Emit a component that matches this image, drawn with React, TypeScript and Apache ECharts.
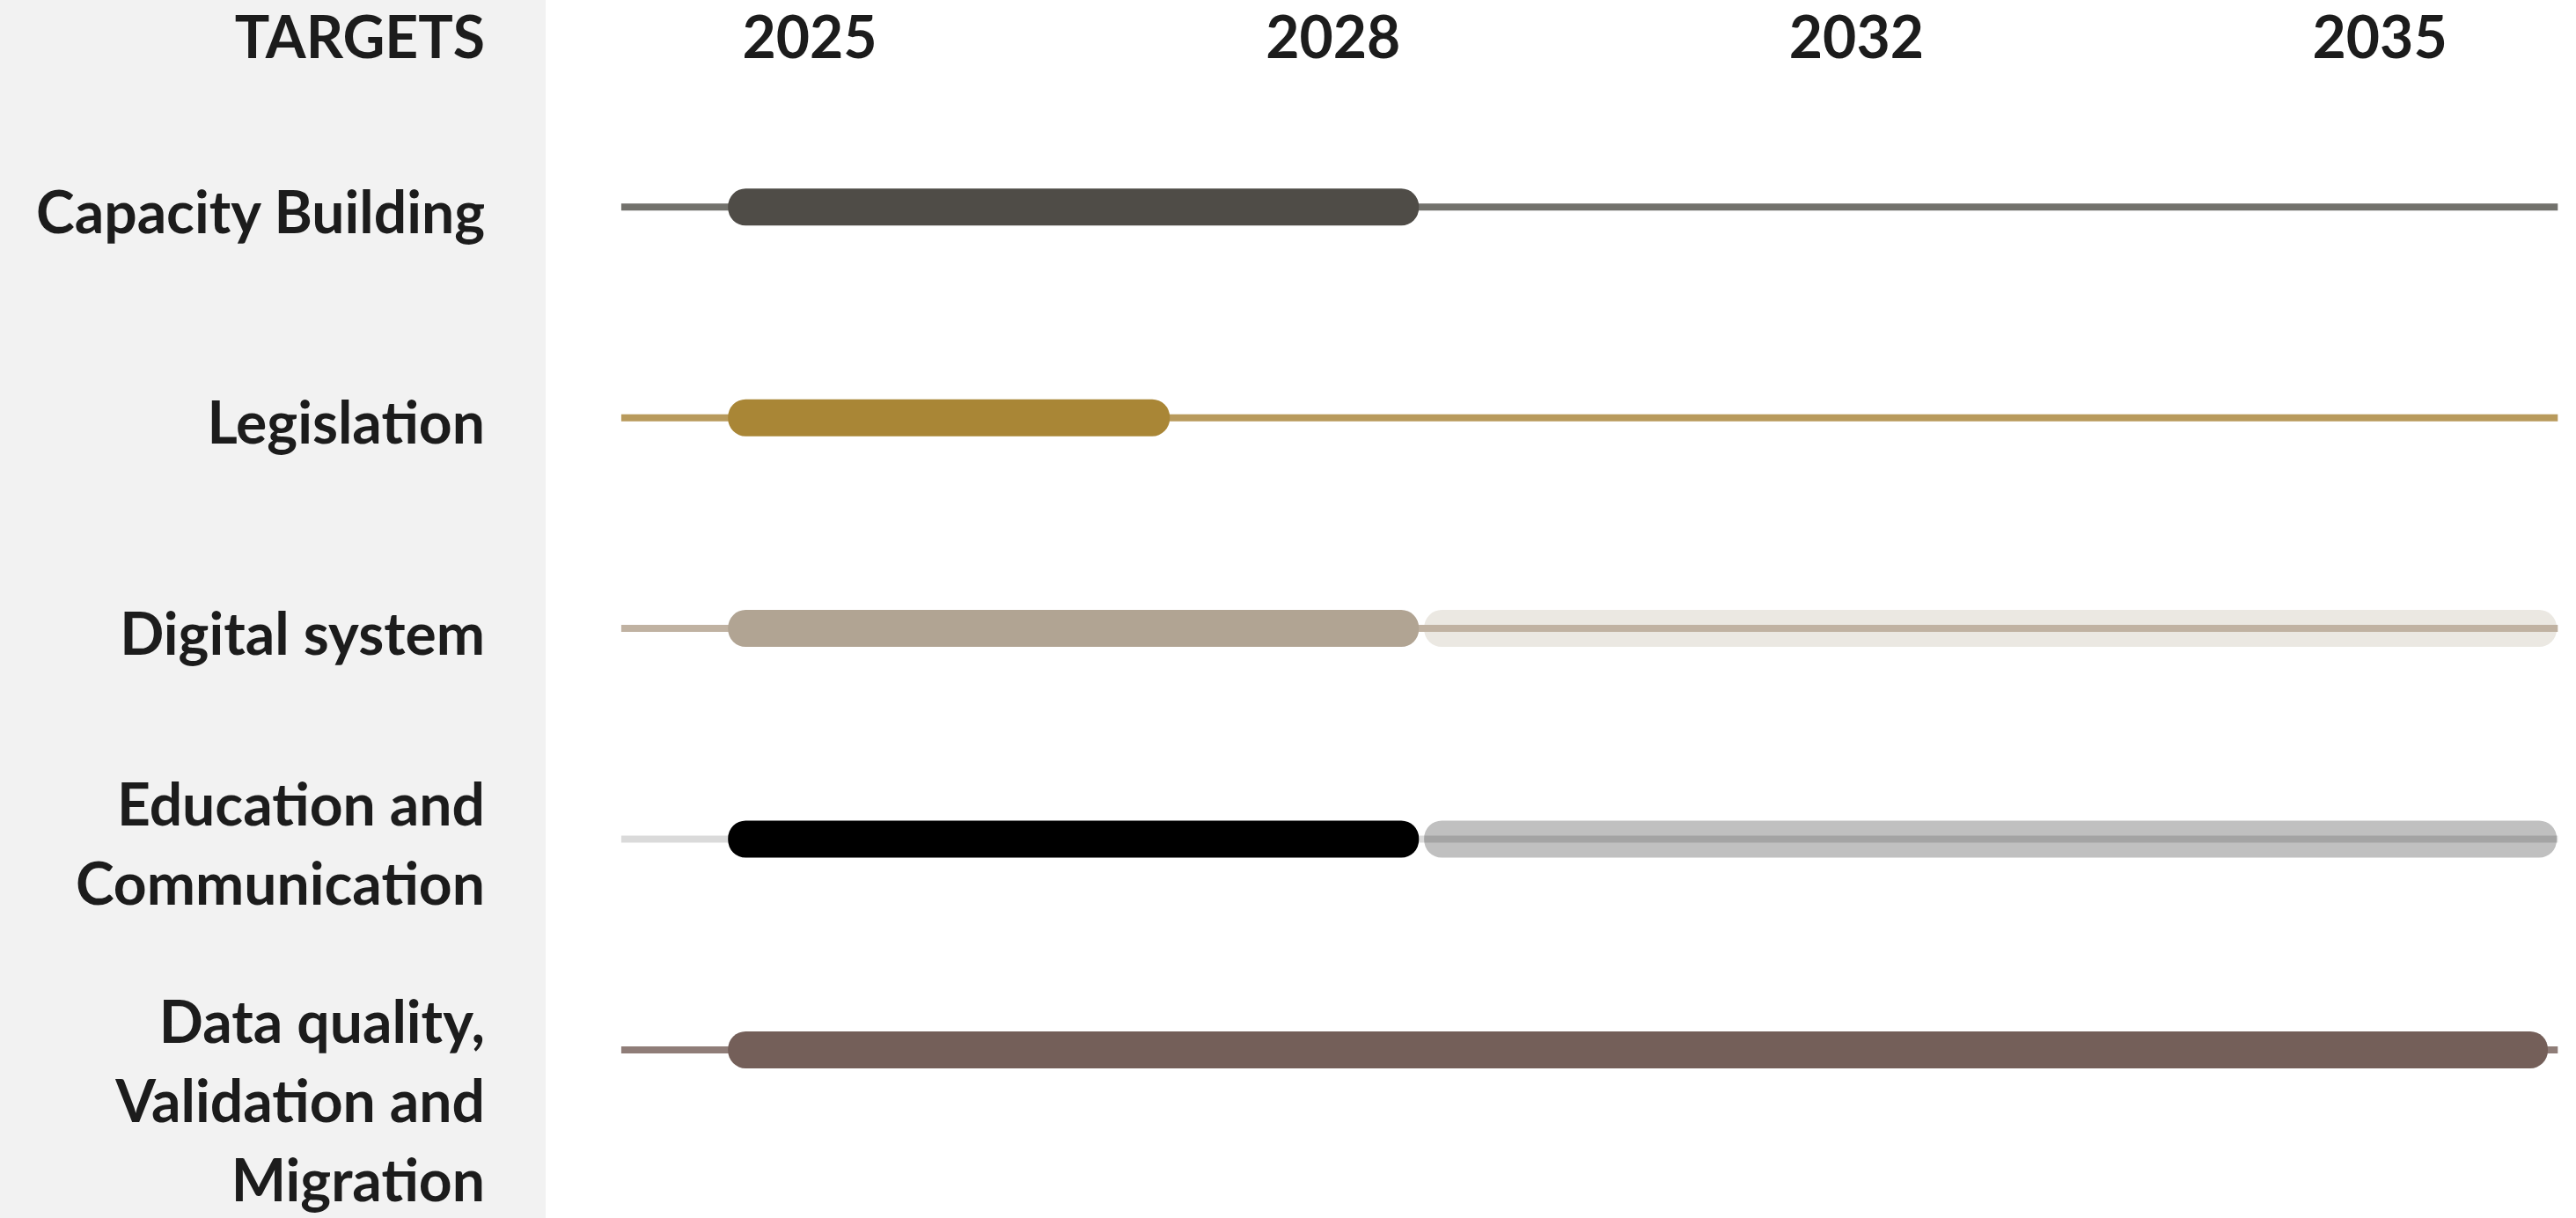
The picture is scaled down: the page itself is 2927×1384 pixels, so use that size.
import React, { useEffect, useRef } from "react";
import * as echarts from "echarts";

// ---------- DATA ----------
const categories = [
  "Capacity Building",
  "Legislation",
  "Digital system",
  "Education and\nCommunication",
  "Data quality,\nValidation and\nMigration",
];
const axisTitle = "TARGETS";
const yearLabels = ["2025", "2028", "2032", "2035"];
// timeline positions: 0 = 2025 column, 1 = 2028, 2 = 2032, 3 = 2035
const yearPositions = [0, 1, 2, 3];

const trackStart = [-0.36, -0.36, -0.36, -0.36, -0.36];
const trackEnd = [3.34, 3.34, 3.34, 3.34, 3.34];

const phase1Start = [-0.156, -0.156, -0.156, -0.156, -0.156];
const phase1End = [1.164, 0.688, 1.164, 1.164, 3.321];

const phase2Start: (number | null)[] = [null, null, 1.174, 1.174, null];
const phase2End: (number | null)[] = [null, null, 3.338, 3.338, null];

// ---------- STYLE ----------
const phase1Colors = ["#4f4c47", "#a98636", "#b1a493", "#000000", "#745f59"];
const phase2Colors = ["", "", "#ebe8e2", "#c0c0c0", ""];
const trackColors = ["#72716c", "#b89a5c", "#c0b2a2", "rgba(0,0,0,0.145)", "#8f7d78"];

const W = 2927;
const H = 1384;
const X0 = 920; // pixel of timeline position 0
const UNIT = 594.7; // pixels per timeline step
const X_MIN = -0.5;
const X_MAX = 3.375;
const ROW_TOP = 115.6;
const ROW_BAND = 239.4;
const BAR_H = 42;
const BAR_R = 20;
const TRACK_W = 8;
const FONT = "Lato, 'Open Sans', sans-serif";
const FONT_SIZE = 66;
const TEXT = "#1c1c1c";
const PANEL_W = 620;
const LABEL_RIGHT = 551;
const HEADER_Y = 40;

const gridLeft = X0 + X_MIN * UNIT;

function barRenderer(colors: string[]) {
  return (params: any, api: any) => {
    const row = api.value(0);
    const s = api.coord([api.value(1), row]);
    const e = api.coord([api.value(2), row]);
    return {
      type: "rect",
      shape: { x: s[0], y: s[1] - BAR_H / 2, width: e[0] - s[0], height: BAR_H, r: BAR_R },
      style: { fill: colors[row] },
    };
  };
}

function trackRenderer(params: any, api: any) {
  const row = api.value(0);
  const s = api.coord([api.value(1), row]);
  const e = api.coord([api.value(2), row]);
  return {
    type: "line",
    shape: { x1: s[0], y1: s[1], x2: e[0], y2: e[1] },
    style: { stroke: trackColors[row], lineWidth: TRACK_W, lineCap: "butt" },
  };
}

const trackData = categories.map((_, i) => [i, trackStart[i], trackEnd[i]]);
const phase1Data = categories.map((_, i) => [i, phase1Start[i], phase1End[i]]);
const phase2Data = categories
  .map((_, i) => [i, phase2Start[i], phase2End[i]])
  .filter((d) => d[1] !== null && d[2] !== null);

const option: any = {
  animation: false,
  backgroundColor: "#ffffff",
  graphic: [
    {
      type: "rect",
      z: -10,
      silent: true,
      shape: { x: 0, y: 0, width: PANEL_W, height: H },
      style: { fill: "#f2f2f2" },
    },
    {
      type: "text",
      z: 10,
      silent: true,
      x: LABEL_RIGHT,
      y: HEADER_Y,
      style: {
        text: axisTitle,
        fill: TEXT,
        font: `700 ${FONT_SIZE}px ${FONT}`,
        textAlign: "right",
        textVerticalAlign: "middle",
      },
    },
  ],
  grid: {
    left: gridLeft,
    width: (X_MAX - X_MIN) * UNIT,
    top: ROW_TOP,
    height: ROW_BAND * categories.length,
    containLabel: false,
    outerBoundsMode: "none",
  },
  xAxis: {
    type: "value",
    position: "top",
    min: X_MIN,
    max: X_MAX,
    axisLine: { show: false },
    axisTick: { show: false },
    splitLine: { show: false },
    axisLabel: {
      customValues: yearPositions,
      formatter: (v: number) => yearLabels[yearPositions.indexOf(Math.round(v))] ?? "",
      fontFamily: FONT,
      fontWeight: 700,
      fontSize: FONT_SIZE,
      color: TEXT,
      verticalAlign: "middle",
      margin: ROW_TOP - HEADER_Y,
      hideOverlap: false,
    },
  },
  yAxis: {
    type: "category",
    data: categories,
    inverse: true,
    axisLine: { show: false },
    axisTick: { show: false },
    splitLine: { show: false },
    axisLabel: {
      interval: 0,
      hideOverlap: false,
      fontFamily: FONT,
      fontWeight: 700,
      fontSize: FONT_SIZE,
      lineHeight: 90,
      color: TEXT,
      align: "right",
      margin: gridLeft - LABEL_RIGHT,
      padding: [8, 0, 0, 0],
      formatter: (value: string, index: number) =>
        index === categories.length - 1 ? `{gap| }\n${value}` : value,
      rich: {
        gap: { fontSize: 10, lineHeight: 105 },
      },
    },
  },
  series: [
    {
      type: "custom",
      name: "Later phase",
      z: 2,
      renderItem: barRenderer(phase2Colors),
      encode: { x: [1, 2], y: 0 },
      data: phase2Data,
    },
    {
      type: "custom",
      name: "Timeline",
      z: 3,
      renderItem: trackRenderer,
      encode: { x: [1, 2], y: 0 },
      data: trackData,
    },
    {
      type: "custom",
      name: "First phase",
      z: 4,
      renderItem: barRenderer(phase1Colors),
      encode: { x: [1, 2], y: 0 },
      data: phase1Data,
    },
  ],
};

export default function App() {
  const ref = useRef<HTMLDivElement>(null);
  useEffect(() => {
    if (!ref.current) return;
    const chart = echarts.init(ref.current, null, { renderer: "svg" });
    chart.setOption(option);
    return () => chart.dispose();
  }, []);
  return (
    <div
      ref={ref}
      style={{ position: "fixed", left: 0, top: 0, width: W, height: H }}
    />
  );
}
